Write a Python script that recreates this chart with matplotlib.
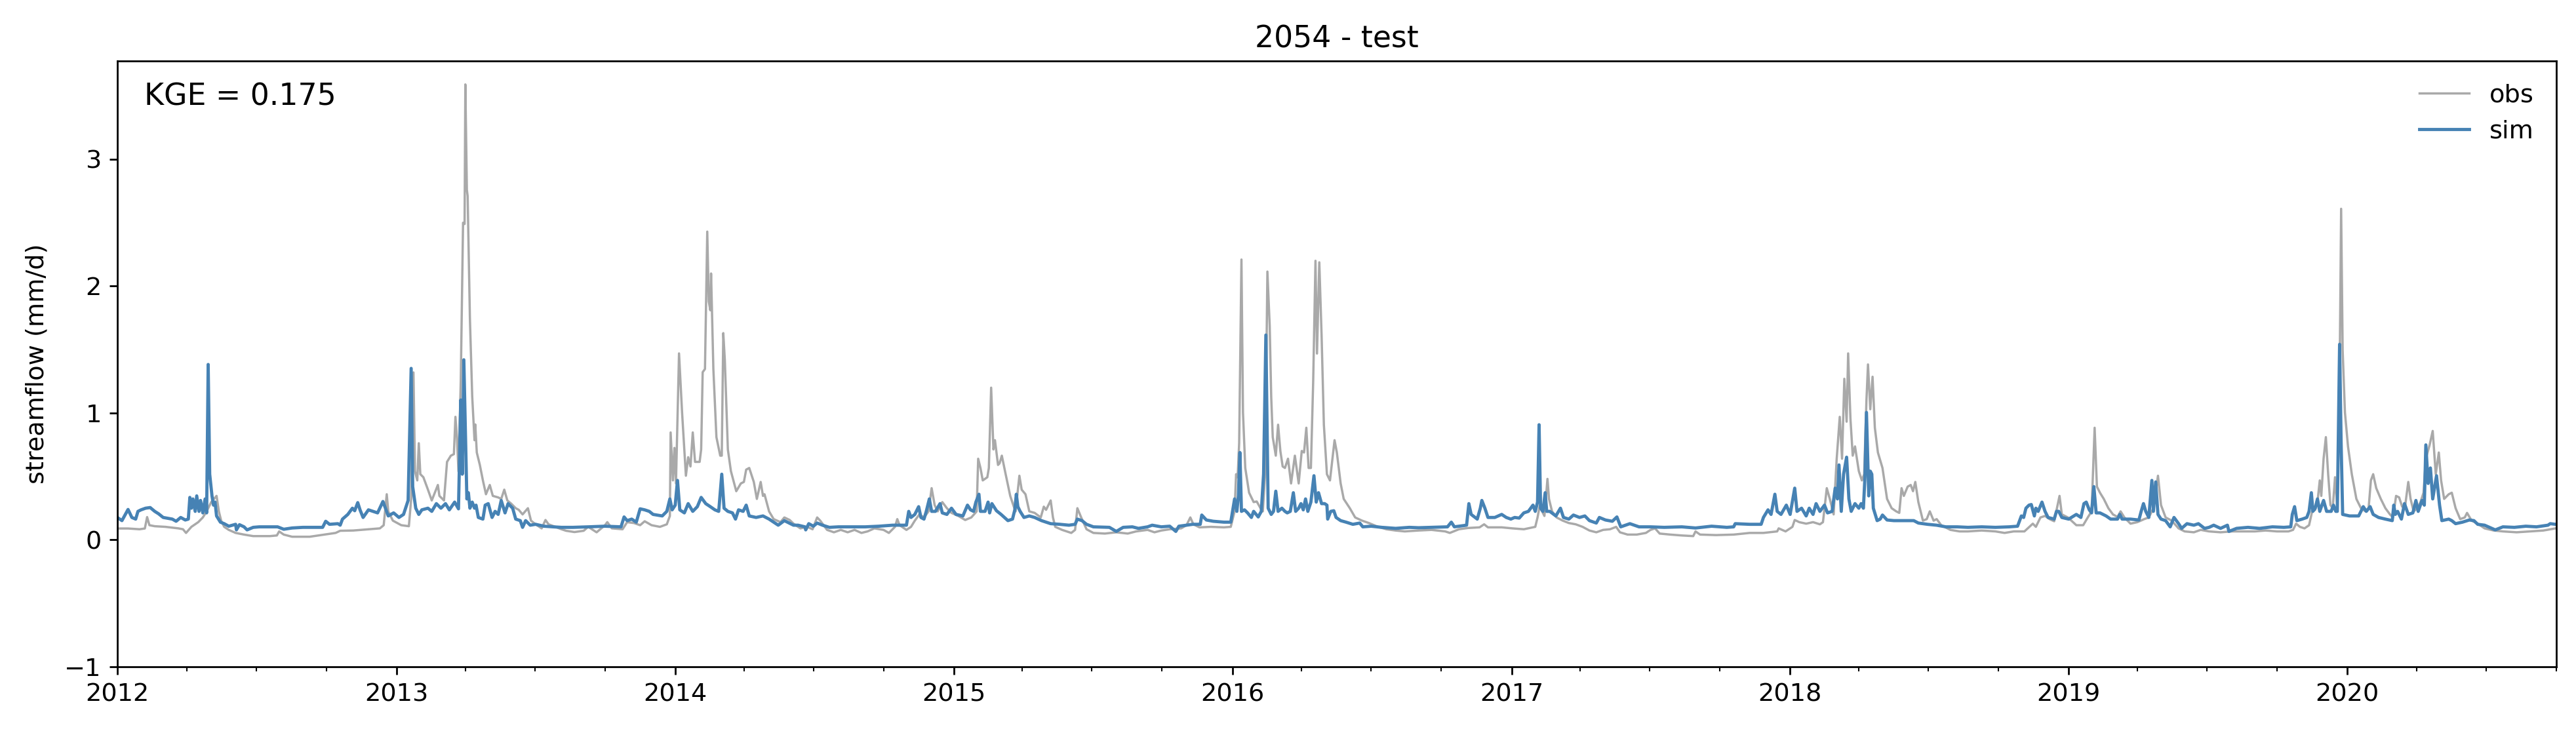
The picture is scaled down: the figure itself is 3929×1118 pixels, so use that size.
import numpy as np
import pandas as pd
import matplotlib
matplotlib.use('Agg')
import matplotlib.pyplot as plt
import matplotlib.dates as mdates

plt.rcParams['font.size'] = 11

# observed streamflow (mm/d), day offsets from 2012-01-01
obs_day = [0, 14, 29, 36, 39, 42, 49, 63, 80, 86, 90, 97, 106, 112, 117, 123, 130, 133, 136, 140,
           146, 155, 166, 178, 200, 209, 212, 218, 229, 252, 269, 286, 292, 309, 329, 344, 349, 353, 355, 361,
           372, 382, 385, 388, 390, 393, 395, 397, 401, 407, 412, 420, 422, 428, 432, 437, 441, 443, 445, 447,
           450, 453, 455, 456, 458, 459, 462, 465, 468, 469, 471, 475, 479, 483, 488, 492, 499, 503, 507, 511,
           516, 522, 526, 531, 538, 542, 548, 556, 561, 565, 574, 582, 588, 599, 611, 617, 628, 639, 642, 648,
           662, 668, 677, 685, 691, 700, 711, 720, 724, 725, 728, 730, 732, 736, 740, 745, 748, 751, 754, 757,
           763, 765, 767, 770, 773, 775, 777, 778, 781, 785, 790, 792, 794, 796, 800, 804, 811, 817, 821, 824,
           828, 834, 838, 843, 846, 848, 854, 860, 869, 874, 881, 886, 895, 904, 911, 917, 921, 930, 939, 948,
           957, 966, 975, 983, 992, 1004, 1011, 1019, 1022, 1025, 1034, 1040, 1045, 1051, 1057, 1063, 1067, 1071, 1075, 1081,
           1087, 1093, 1102, 1111, 1119, 1126, 1128, 1131, 1134, 1140, 1142, 1145, 1148, 1150, 1154, 1156, 1159, 1164, 1170, 1174,
           1177, 1182, 1185, 1190, 1195, 1202, 1210, 1214, 1217, 1223, 1226, 1229, 1238, 1250, 1255, 1258, 1263, 1270, 1279, 1294,
           1309, 1324, 1335, 1350, 1359, 1368, 1379, 1394, 1401, 1406, 1410, 1418, 1433, 1450, 1459, 1464, 1466, 1468, 1470, 1473,
           1475, 1478, 1483, 1489, 1493, 1498, 1501, 1504, 1507, 1510, 1512, 1514, 1518, 1521, 1524, 1527, 1530, 1534, 1538, 1543,
           1548, 1552, 1555, 1558, 1561, 1564, 1567, 1570, 1572, 1575, 1578, 1581, 1585, 1589, 1595, 1598, 1603, 1607, 1615, 1622,
           1631, 1640, 1652, 1663, 1675, 1687, 1705, 1722, 1740, 1746, 1758, 1770, 1785, 1791, 1796, 1814, 1828, 1843, 1858, 1861,
           1864, 1867, 1870, 1874, 1876, 1880, 1886, 1894, 1902, 1911, 1920, 1929, 1938, 1947, 1956, 1964, 1969, 1979, 1991, 2003,
           2009, 2015, 2021, 2035, 2050, 2065, 2068, 2074, 2095, 2118, 2139, 2157, 2175, 2177, 2186, 2195, 2198, 2204, 2213, 2222,
           2231, 2235, 2240, 2244, 2249, 2253, 2257, 2260, 2263, 2266, 2268, 2271, 2274, 2277, 2282, 2286, 2289, 2292, 2294, 2297,
           2300, 2303, 2307, 2313, 2319, 2325, 2331, 2335, 2338, 2341, 2346, 2350, 2353, 2356, 2360, 2366, 2371, 2375, 2380, 2384,
           2390, 2402, 2414, 2425, 2443, 2461, 2473, 2485, 2499, 2510, 2514, 2520, 2526, 2532, 2538, 2545, 2548, 2556, 2567, 2576,
           2582, 2587, 2591, 2594, 2598, 2603, 2609, 2615, 2621, 2625, 2630, 2638, 2647, 2656, 2662, 2668, 2674, 2678, 2684, 2692,
           2701, 2709, 2721, 2730, 2741, 2756, 2771, 2786, 2801, 2815, 2830, 2845, 2851, 2855, 2860, 2866, 2872, 2876, 2880, 2883,
           2886, 2888, 2891, 2894, 2897, 2900, 2903, 2906, 2909, 2912, 2914, 2916, 2919, 2923, 2928, 2934, 2940, 2946, 2950, 2953,
           2956, 2960, 2966, 2972, 2978, 2982, 2986, 2990, 2994, 2998, 3002, 3005, 3009, 3014, 3018, 3022, 3025, 3030, 3034, 3038,
           3042, 3045, 3049, 3055, 3059, 3064, 3070, 3076, 3079, 3085, 3093, 3102, 3114, 3126, 3144, 3161, 3179, 3195]
obs_val = [0.09, 0.09, 0.084, 0.09, 0.18, 0.116, 0.108, 0.103, 0.091, 0.084, 0.055, 0.103, 0.14, 0.177, 0.225, 0.298, 0.347, 0.225, 0.152, 0.103,
           0.079, 0.055, 0.042, 0.03, 0.03, 0.035, 0.067, 0.042, 0.025, 0.025, 0.04, 0.055, 0.072, 0.074, 0.084, 0.091, 0.116, 0.36, 0.225, 0.152,
           0.116, 0.108, 0.323, 1.32, 0.542, 0.469, 0.762, 0.518, 0.494, 0.396, 0.311, 0.433, 0.347, 0.311, 0.615, 0.664, 0.676, 0.97, 0.81, 0.54,
           1.25, 2.5, 2.49, 3.59, 2.76, 2.71, 1.74, 1.13, 0.786, 0.91, 0.689, 0.591, 0.469, 0.36, 0.433, 0.347, 0.335, 0.323, 0.396, 0.311,
           0.286, 0.25, 0.237, 0.201, 0.25, 0.152, 0.123, 0.091, 0.157, 0.123, 0.103, 0.084, 0.072, 0.062, 0.072, 0.103, 0.06, 0.116, 0.14, 0.091,
           0.084, 0.14, 0.133, 0.116, 0.147, 0.116, 0.103, 0.123, 0.189, 0.847, 0.469, 0.725, 0.445, 1.47, 1.005, 0.506, 0.652, 0.579, 0.847, 0.615,
           0.615, 0.713, 1.322, 1.347, 2.43, 1.88, 1.81, 2.1, 1.347, 0.81, 0.664, 0.664, 1.63, 1.42, 0.713, 0.542, 0.384, 0.445, 0.457, 0.554,
           0.567, 0.457, 0.323, 0.457, 0.347, 0.36, 0.225, 0.164, 0.14, 0.177, 0.157, 0.128, 0.091, 0.103, 0.084, 0.177, 0.152, 0.079, 0.06, 0.079,
           0.06, 0.079, 0.055, 0.067, 0.091, 0.079, 0.055, 0.103, 0.164, 0.116, 0.079, 0.103, 0.152, 0.201, 0.177, 0.225, 0.408, 0.274, 0.225, 0.298,
           0.25, 0.213, 0.189, 0.157, 0.177, 0.225, 0.64, 0.567, 0.469, 0.494, 0.567, 1.2, 0.713, 0.786, 0.591, 0.603, 0.664, 0.518, 0.347, 0.274,
           0.225, 0.506, 0.396, 0.36, 0.225, 0.213, 0.177, 0.262, 0.237, 0.311, 0.177, 0.103, 0.079, 0.055, 0.079, 0.25, 0.177, 0.084, 0.055, 0.05,
           0.06, 0.05, 0.067, 0.079, 0.06, 0.074, 0.084, 0.091, 0.116, 0.177, 0.123, 0.099, 0.103, 0.099, 0.103, 0.225, 0.518, 0.494, 0.762, 2.21,
           1.005, 0.567, 0.372, 0.298, 0.303, 0.25, 0.225, 0.518, 2.115, 1.69, 1.127, 0.81, 0.664, 0.908, 0.701, 0.579, 0.567, 0.64, 0.445, 0.664,
           0.445, 0.701, 0.689, 0.884, 0.567, 0.567, 1.249, 2.2, 1.469, 2.188, 1.615, 0.908, 0.518, 0.469, 0.786, 0.689, 0.445, 0.323, 0.25, 0.177,
           0.152, 0.133, 0.103, 0.084, 0.074, 0.067, 0.074, 0.079, 0.067, 0.055, 0.084, 0.094, 0.099, 0.123, 0.099, 0.099, 0.091, 0.084, 0.103, 0.177,
           0.274, 0.225, 0.189, 0.481, 0.323, 0.225, 0.177, 0.152, 0.133, 0.123, 0.103, 0.074, 0.06, 0.079, 0.084, 0.103, 0.06, 0.042, 0.042, 0.055,
           0.079, 0.091, 0.05, 0.042, 0.035, 0.03, 0.067, 0.042, 0.038, 0.042, 0.055, 0.055, 0.067, 0.091, 0.067, 0.103, 0.157, 0.14, 0.128, 0.14,
           0.123, 0.14, 0.408, 0.323, 0.201, 0.64, 0.97, 0.64, 1.27, 0.932, 1.47, 0.957, 0.664, 0.737, 0.542, 0.469, 0.518, 1.103, 1.383, 1.03,
           1.286, 0.884, 0.689, 0.567, 0.323, 0.25, 0.225, 0.213, 0.408, 0.347, 0.42, 0.433, 0.384, 0.457, 0.298, 0.152, 0.164, 0.225, 0.152, 0.164,
           0.116, 0.079, 0.067, 0.067, 0.074, 0.067, 0.055, 0.067, 0.067, 0.128, 0.103, 0.177, 0.189, 0.164, 0.147, 0.347, 0.201, 0.177, 0.116, 0.116,
           0.177, 0.225, 0.884, 0.42, 0.372, 0.323, 0.25, 0.201, 0.181, 0.225, 0.177, 0.128, 0.14, 0.164, 0.177, 0.25, 0.506, 0.274, 0.177, 0.152,
           0.091, 0.067, 0.06, 0.079, 0.067, 0.06, 0.067, 0.067, 0.067, 0.074, 0.067, 0.067, 0.079, 0.128, 0.103, 0.091, 0.116, 0.225, 0.237, 0.298,
           0.469, 0.347, 0.64, 0.81, 0.518, 0.274, 0.25, 0.494, 0.25, 1.249, 2.61, 1.493, 1.005, 0.737, 0.518, 0.323, 0.25, 0.225, 0.25, 0.469,
           0.518, 0.408, 0.323, 0.25, 0.201, 0.177, 0.347, 0.335, 0.262, 0.274, 0.457, 0.323, 0.225, 0.25, 0.298, 0.372, 0.64, 0.749, 0.859, 0.518,
           0.689, 0.469, 0.323, 0.36, 0.372, 0.25, 0.164, 0.177, 0.213, 0.152, 0.128, 0.091, 0.074, 0.067, 0.06, 0.067, 0.074, 0.091]

# simulated streamflow (mm/d)
sim_day = [0, 6, 14, 19, 24, 27, 31, 37, 43, 49, 54, 60, 72, 77, 83, 89, 93, 95, 97, 99,
           102, 104, 107, 109, 112, 115, 117, 119, 121, 124, 126, 128, 130, 135, 140, 146, 155, 156, 160, 166,
           170, 178, 186, 200, 210, 218, 229, 243, 258, 269, 273, 278, 289, 292, 295, 302, 308, 311, 315, 318,
           322, 329, 335, 341, 348, 351, 355, 362, 369, 375, 381, 385, 387, 391, 395, 399, 407, 412, 418, 424,
           430, 435, 442, 447, 450, 452, 454, 456, 458, 460, 462, 465, 468, 470, 473, 479, 482, 486, 491, 495,
           499, 503, 508, 512, 518, 522, 528, 531, 535, 541, 548, 559, 571, 582, 597, 617, 639, 660, 664, 668,
           674, 680, 685, 691, 697, 702, 714, 720, 724, 727, 731, 734, 737, 743, 748, 754, 760, 765, 771, 777,
           783, 788, 792, 795, 800, 806, 810, 814, 820, 824, 828, 837, 846, 854, 866, 874, 886, 892, 901, 902,
           906, 912, 917, 924, 933, 945, 963, 980, 998, 1016, 1034, 1037, 1040, 1045, 1050, 1053, 1057, 1060, 1064, 1067,
           1072, 1078, 1081, 1087, 1093, 1099, 1108, 1114, 1118, 1122, 1125, 1129, 1131, 1137, 1141, 1143, 1146, 1152, 1158, 1167,
           1173, 1176, 1178, 1180, 1183, 1188, 1195, 1202, 1211, 1223, 1235, 1247, 1255, 1258, 1264, 1270, 1279, 1300, 1309, 1318,
           1330, 1338, 1350, 1356, 1368, 1379, 1387, 1391, 1401, 1409, 1419, 1421, 1427, 1436, 1450, 1459, 1464, 1467, 1469, 1471,
           1473, 1477, 1481, 1486, 1489, 1495, 1499, 1502, 1505, 1508, 1512, 1515, 1518, 1521, 1526, 1530, 1533, 1537, 1541, 1544,
           1548, 1551, 1554, 1557, 1560, 1564, 1568, 1571, 1574, 1578, 1582, 1585, 1586, 1590, 1594, 1597, 1603, 1610, 1619, 1628,
           1632, 1643, 1657, 1675, 1693, 1705, 1722, 1743, 1748, 1752, 1768, 1771, 1774, 1782, 1786, 1788, 1792, 1796, 1805, 1814,
           1820, 1826, 1831, 1837, 1843, 1849, 1855, 1858, 1861, 1863, 1865, 1868, 1871, 1873, 1877, 1885, 1891, 1895, 1902, 1908,
           1916, 1923, 1929, 1938, 1942, 1950, 1959, 1965, 1970, 1982, 1994, 2009, 2027, 2050, 2068, 2089, 2109, 2118, 2120, 2139,
           2154, 2157, 2163, 2167, 2172, 2175, 2180, 2187, 2192, 2198, 2201, 2207, 2213, 2217, 2222, 2226, 2231, 2237, 2241, 2247,
           2251, 2254, 2256, 2259, 2262, 2266, 2269, 2272, 2277, 2282, 2285, 2288, 2290, 2292, 2295, 2297, 2299, 2301, 2306, 2310,
           2313, 2319, 2328, 2343, 2354, 2360, 2372, 2384, 2396, 2411, 2425, 2443, 2461, 2479, 2490, 2495, 2498, 2501, 2505, 2508,
           2512, 2514, 2517, 2522, 2526, 2530, 2538, 2541, 2544, 2548, 2557, 2567, 2573, 2577, 2580, 2584, 2587, 2590, 2593, 2598,
           2606, 2612, 2621, 2624, 2627, 2638, 2649, 2652, 2655, 2658, 2662, 2666, 2668, 2671, 2674, 2678, 2684, 2690, 2695, 2701,
           2705, 2712, 2721, 2727, 2735, 2741, 2747, 2756, 2765, 2767, 2777, 2792, 2807, 2824, 2839, 2848, 2850, 2853, 2856, 2863,
           2869, 2872, 2875, 2877, 2880, 2883, 2886, 2891, 2895, 2901, 2904, 2907, 2909, 2912, 2914, 2916, 2925, 2937, 2940, 2943,
           2947, 2952, 2956, 2963, 2972, 2981, 2983, 2985, 2988, 2993, 2997, 3002, 3008, 3012, 3015, 3020, 3023, 3025, 3028, 3031,
           3034, 3039, 3043, 3046, 3055, 3059, 3064, 3073, 3082, 3088, 3093, 3102, 3116, 3126, 3141, 3156, 3170, 3185, 3188, 3195]
sim_val = [0.177, 0.152, 0.24, 0.177, 0.164, 0.225, 0.237, 0.25, 0.255, 0.225, 0.206, 0.177, 0.164, 0.147, 0.177, 0.157, 0.164, 0.335, 0.25, 0.323,
           0.225, 0.347, 0.225, 0.311, 0.213, 0.323, 0.213, 1.383, 0.518, 0.347, 0.274, 0.298, 0.189, 0.14, 0.128, 0.108, 0.123, 0.079, 0.12, 0.103,
           0.079, 0.099, 0.103, 0.103, 0.103, 0.084, 0.094, 0.099, 0.099, 0.099, 0.147, 0.123, 0.128, 0.116, 0.164, 0.201, 0.25, 0.23, 0.294, 0.237,
           0.177, 0.237, 0.225, 0.213, 0.303, 0.255, 0.189, 0.213, 0.177, 0.201, 0.311, 1.352, 0.42, 0.25, 0.201, 0.237, 0.25, 0.225, 0.286, 0.25,
           0.286, 0.237, 0.298, 0.245, 1.103, 0.518, 1.42, 0.884, 0.323, 0.372, 0.25, 0.298, 0.25, 0.274, 0.177, 0.164, 0.274, 0.286, 0.177, 0.225,
           0.201, 0.311, 0.213, 0.286, 0.25, 0.164, 0.152, 0.099, 0.152, 0.116, 0.123, 0.108, 0.103, 0.099, 0.099, 0.103, 0.108, 0.103, 0.181, 0.152,
           0.164, 0.14, 0.245, 0.237, 0.225, 0.201, 0.189, 0.225, 0.323, 0.237, 0.274, 0.469, 0.237, 0.213, 0.286, 0.225, 0.262, 0.335, 0.286, 0.262,
           0.237, 0.225, 0.518, 0.25, 0.225, 0.213, 0.164, 0.237, 0.225, 0.274, 0.189, 0.177, 0.189, 0.164, 0.116, 0.152, 0.116, 0.116, 0.103, 0.079,
           0.128, 0.108, 0.133, 0.116, 0.099, 0.103, 0.103, 0.103, 0.108, 0.116, 0.116, 0.225, 0.177, 0.201, 0.262, 0.177, 0.164, 0.225, 0.323, 0.225,
           0.225, 0.286, 0.213, 0.201, 0.25, 0.201, 0.189, 0.274, 0.237, 0.225, 0.298, 0.36, 0.225, 0.225, 0.298, 0.213, 0.286, 0.23, 0.201, 0.152,
           0.164, 0.237, 0.36, 0.262, 0.225, 0.177, 0.189, 0.177, 0.152, 0.128, 0.123, 0.116, 0.123, 0.164, 0.152, 0.123, 0.103, 0.099, 0.067, 0.099,
           0.103, 0.091, 0.103, 0.116, 0.103, 0.108, 0.067, 0.108, 0.116, 0.123, 0.123, 0.196, 0.157, 0.147, 0.14, 0.14, 0.323, 0.225, 0.347, 0.689,
           0.225, 0.237, 0.213, 0.177, 0.225, 0.181, 0.225, 0.518, 1.615, 0.25, 0.201, 0.225, 0.384, 0.225, 0.25, 0.225, 0.213, 0.225, 0.372, 0.225,
           0.25, 0.286, 0.237, 0.323, 0.225, 0.298, 0.506, 0.298, 0.372, 0.286, 0.286, 0.274, 0.164, 0.225, 0.23, 0.177, 0.152, 0.14, 0.123, 0.133,
           0.103, 0.108, 0.099, 0.091, 0.099, 0.096, 0.099, 0.103, 0.14, 0.103, 0.116, 0.286, 0.201, 0.164, 0.25, 0.311, 0.25, 0.177, 0.177, 0.201,
           0.177, 0.164, 0.177, 0.172, 0.213, 0.225, 0.274, 0.225, 0.298, 0.908, 0.25, 0.225, 0.372, 0.225, 0.225, 0.189, 0.25, 0.177, 0.164, 0.196,
           0.177, 0.189, 0.152, 0.133, 0.177, 0.157, 0.147, 0.181, 0.103, 0.128, 0.103, 0.103, 0.099, 0.103, 0.094, 0.108, 0.099, 0.103, 0.128, 0.123,
           0.123, 0.177, 0.237, 0.201, 0.36, 0.225, 0.201, 0.274, 0.201, 0.408, 0.225, 0.25, 0.189, 0.25, 0.201, 0.286, 0.225, 0.274, 0.213, 0.225,
           0.408, 0.323, 0.591, 0.225, 0.518, 0.652, 0.323, 0.225, 0.286, 0.25, 0.286, 0.25, 0.494, 1.005, 0.347, 0.542, 0.518, 0.25, 0.152, 0.164,
           0.196, 0.157, 0.152, 0.152, 0.152, 0.133, 0.123, 0.116, 0.103, 0.103, 0.099, 0.103, 0.099, 0.103, 0.108, 0.189, 0.177, 0.25, 0.274, 0.279,
           0.189, 0.25, 0.225, 0.298, 0.225, 0.177, 0.164, 0.225, 0.225, 0.177, 0.164, 0.201, 0.177, 0.286, 0.298, 0.237, 0.213, 0.42, 0.213, 0.213,
           0.189, 0.164, 0.164, 0.201, 0.164, 0.164, 0.157, 0.225, 0.286, 0.225, 0.177, 0.469, 0.225, 0.457, 0.201, 0.164, 0.152, 0.103, 0.177, 0.128,
           0.091, 0.128, 0.116, 0.128, 0.091, 0.099, 0.116, 0.091, 0.116, 0.067, 0.091, 0.099, 0.091, 0.103, 0.099, 0.103, 0.201, 0.262, 0.152, 0.164,
           0.177, 0.225, 0.372, 0.225, 0.25, 0.323, 0.225, 0.311, 0.225, 0.225, 0.274, 0.225, 0.225, 1.542, 0.762, 0.201, 0.189, 0.189, 0.225, 0.262,
           0.225, 0.262, 0.201, 0.177, 0.164, 0.152, 0.274, 0.201, 0.225, 0.164, 0.286, 0.201, 0.213, 0.311, 0.225, 0.311, 0.274, 0.749, 0.445, 0.567,
           0.323, 0.506, 0.274, 0.152, 0.164, 0.152, 0.128, 0.14, 0.157, 0.152, 0.123, 0.116, 0.079, 0.103, 0.099, 0.108, 0.103, 0.116, 0.128, 0.123]

start = pd.Timestamp('2012-01-01')
obs_dates = start + pd.to_timedelta(obs_day, unit='D')
sim_dates = start + pd.to_timedelta(sim_day, unit='D')

fig = plt.figure(figsize=(3929 / 250, 1118 / 250), dpi=250)
ax = fig.add_axes([179 / 3929, 1 - 1017 / 1118, 3720 / 3929, 924 / 1118])

ax.plot(obs_dates, obs_val, color='darkgray', lw=1.0, label='obs')
ax.plot(sim_dates, sim_val, color='steelblue', lw=1.4, label='sim')

ax.set_xlim(pd.Timestamp('2012-01-01'), pd.Timestamp('2020-10-01'))
ax.set_ylim(-1, 3.775)
ax.xaxis.set_major_locator(mdates.YearLocator())
ax.xaxis.set_major_formatter(mdates.DateFormatter('%Y'))
ax.xaxis.set_minor_locator(mdates.MonthLocator(bymonth=[1, 4, 7, 10]))

ax.set_ylabel('streamflow (mm/d)', labelpad=7)
ax.set_title('2054 - test', fontsize='large')
ax.text(0.011, 0.965, 'KGE = 0.175', transform=ax.transAxes, fontsize='large', va='top')
ax.legend(loc='upper right', frameon=False)

fig.savefig('out.png', dpi=250)
plt.close('all')
